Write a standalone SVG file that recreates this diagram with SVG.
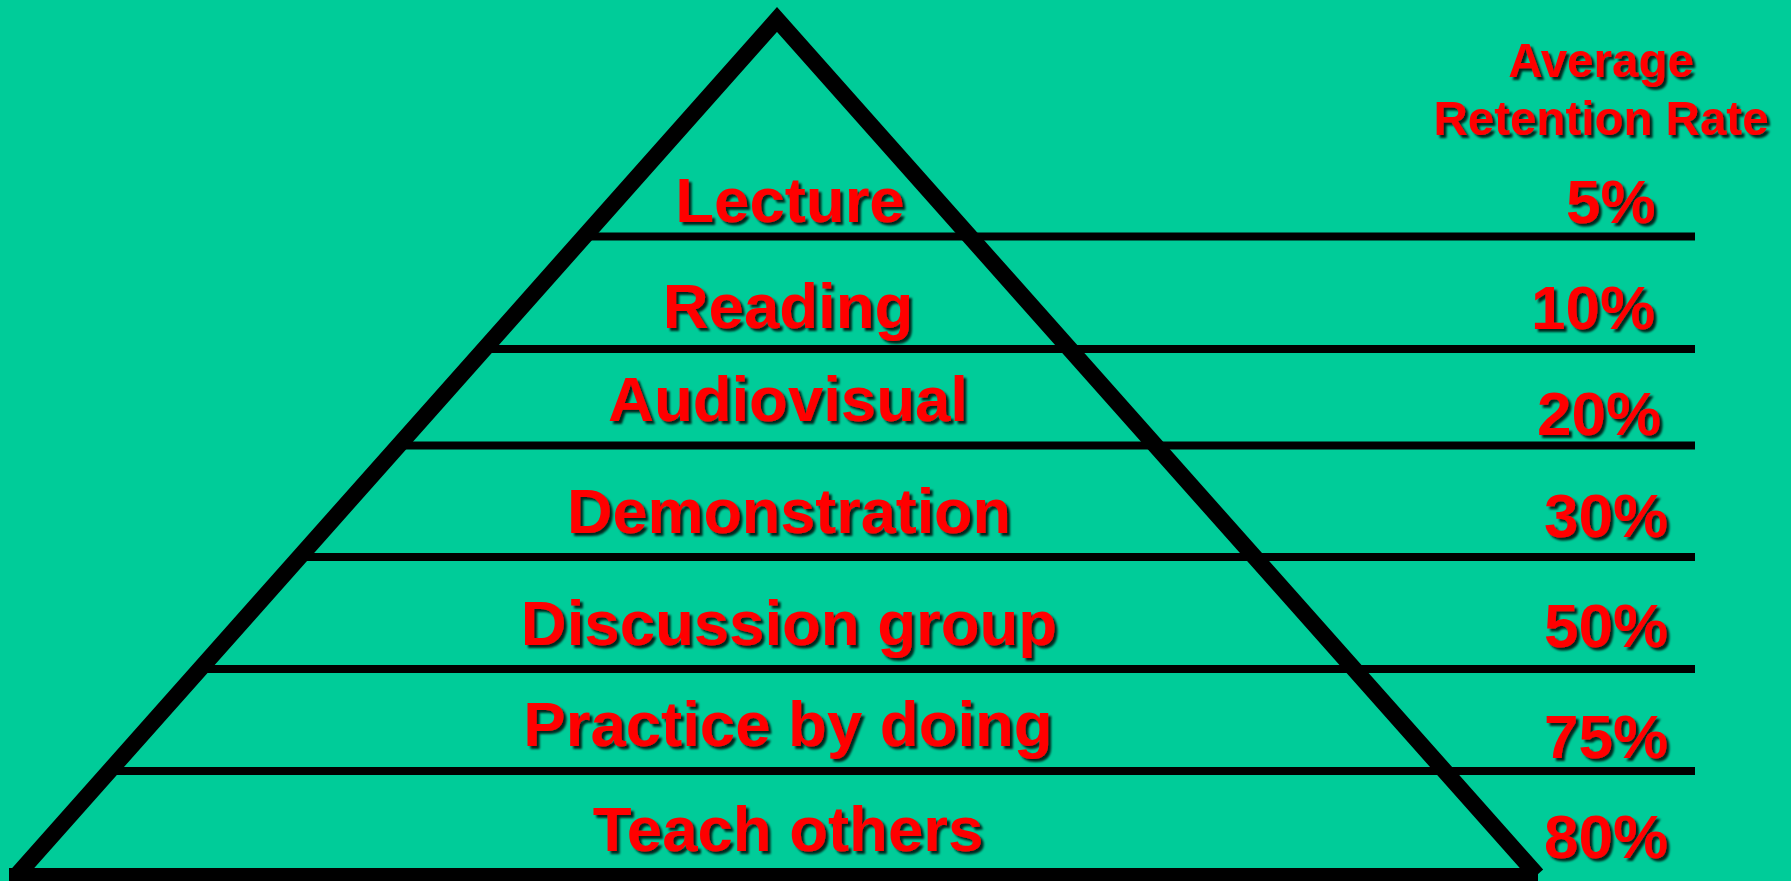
<svg xmlns="http://www.w3.org/2000/svg" width="1791" height="881" viewBox="0 0 1791 881">
  <defs>
    <filter id="shadow" x="-10%" y="-20%" width="130%" height="150%">
      <feDropShadow dx="3" dy="3" stdDeviation="0.9" flood-color="#000000" flood-opacity="0.8"/>
    </filter>
  </defs>
  <style>
    .lbl { font-family: "Liberation Sans", Arial, sans-serif; font-weight: bold; fill: #FF0000; filter: url(#shadow); }
    .tier { font-size: 63.5px; text-anchor: middle; }
    .pct { font-size: 62px; }
    .hdr { font-size: 47.5px; text-anchor: middle; }
    .side { fill: none; stroke: #000; stroke-width: 16.5; stroke-linejoin: miter; stroke-linecap: butt; }
    .sep { stroke: #000; stroke-width: 8; stroke-linecap: butt; }
  </style>
  <rect x="0" y="0" width="1791" height="881" fill="#00CC99"/>

  <g id="pyramid">
    <polyline class="side" points="17,875 777,19.5 1537,875"/>
    <line x1="9" y1="876" x2="1538" y2="876" stroke="#000" stroke-width="16"/>
  </g>

  <g id="separators">
    <line class="sep" x1="583" y1="236.5" x2="1695" y2="236.5"/>
    <line class="sep" x1="483" y1="349" x2="1695" y2="349"/>
    <line class="sep" x1="398" y1="445.5" x2="1695" y2="445.5"/>
    <line class="sep" x1="299" y1="557" x2="1695" y2="557"/>
    <line class="sep" x1="200" y1="669" x2="1695" y2="669"/>
    <line class="sep" x1="109" y1="771" x2="1695" y2="771"/>
  </g>

  <g id="header">
    <text class="lbl hdr" x="1601" y="77">Average</text>
    <text class="lbl hdr" x="1601" y="135">Retention Rate</text>
  </g>

  <g id="tier-lecture">
    <text class="lbl tier" x="790" y="222">Lecture</text>
    <text class="lbl pct" x="1566" y="223">5%</text>
  </g>
  <g id="tier-reading">
    <text class="lbl tier" x="788" y="328">Reading</text>
    <text class="lbl pct" x="1531" y="329">10%</text>
  </g>
  <g id="tier-audiovisual">
    <text class="lbl tier" x="788" y="421">Audiovisual</text>
    <text class="lbl pct" x="1537" y="435">20%</text>
  </g>
  <g id="tier-demonstration">
    <text class="lbl tier" x="789" y="533" textLength="444" lengthAdjust="spacingAndGlyphs">Demonstration</text>
    <text class="lbl pct" x="1544" y="537">30%</text>
  </g>
  <g id="tier-discussion">
    <text class="lbl tier" x="789" y="645">Discussion group</text>
    <text class="lbl pct" x="1544" y="647">50%</text>
  </g>
  <g id="tier-practice">
    <text class="lbl tier" x="788" y="746">Practice by doing</text>
    <text class="lbl pct" x="1544" y="758">75%</text>
  </g>
  <g id="tier-teach">
    <text class="lbl tier" x="788" y="851">Teach others</text>
    <text class="lbl pct" x="1544" y="858">80%</text>
  </g>
</svg>
